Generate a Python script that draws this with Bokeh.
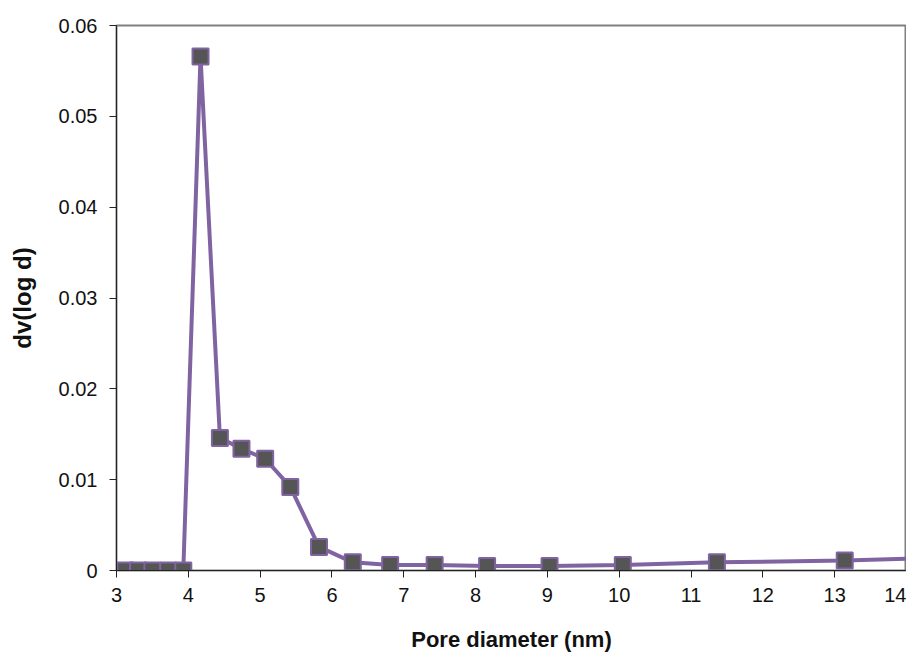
from bokeh.plotting import figure
from bokeh.models import Range1d, FixedTicker
from bokeh.embed import file_html
from bokeh.resources import INLINE

pore_diameter = [3.12, 3.30, 3.50, 3.72, 3.93, 4.17, 4.44, 4.74, 5.07, 5.42, 5.82,
                 6.29, 6.81, 7.43, 8.16, 9.03, 10.05, 11.36, 13.14, 15.5]
dv_logd = [0.0, 0.0, 0.0, 0.0, 0.0, 0.0566, 0.0146, 0.0134, 0.0123, 0.0092, 0.0026,
           0.0009, 0.0006, 0.0006, 0.0005, 0.0005, 0.0006, 0.0009, 0.0011, 0.0016]
x_ticks = [3, 4, 5, 6, 7, 8, 9, 10, 11, 12, 13, 14]
y_ticks = [0, 0.01, 0.02, 0.03, 0.04, 0.05, 0.06]
y_labels = {0: "0", 0.01: "0.01", 0.02: "0.02", 0.03: "0.03", 0.04: "0.04", 0.05: "0.05", 0.06: "0.06"}

p = figure(width=906, height=658, output_backend="svg", toolbar_location=None,
           x_range=Range1d(3, 14), y_range=Range1d(0, 0.06),
           min_border_left=116, min_border_right=0, min_border_top=25, min_border_bottom=88)
p.xgrid.visible = False
p.ygrid.visible = False
p.outline_line_color = "#808080"
p.outline_line_width = 2

p.line(pore_diameter, dv_logd, line_color="#8064A2", line_width=4)
p.scatter(pore_diameter, dv_logd, marker="square", size=16, fill_color="#555555",
          line_color="#8064A2", line_width=2)

font = "Liberation Sans"
for ax in (p.xaxis[0], p.yaxis[0]):
    ax.axis_line_color = "#222222"
    ax.major_tick_line_color = "#222222"
    ax.minor_tick_line_color = None
    ax.major_tick_in = 0
    ax.major_tick_out = 7
    ax.major_label_text_font = font
    ax.major_label_text_font_size = "20px"
    ax.major_label_text_color = "#111111"
    ax.axis_label_text_font = font
    ax.axis_label_text_font_style = "bold"
    ax.axis_label_text_color = "#111111"

p.xaxis.axis_label_text_font_size = "22px"
p.yaxis.axis_label_text_font_size = "24px"
p.xaxis.ticker = FixedTicker(ticks=x_ticks)
p.yaxis.ticker = FixedTicker(ticks=y_ticks)
p.yaxis.major_label_overrides = y_labels
p.xaxis.axis_label = "Pore diameter (nm)"
p.yaxis.axis_label = "dv(log d)"
p.xaxis.major_label_standoff = 10
p.yaxis.major_label_standoff = 12
p.xaxis.axis_label_standoff = 22
p.yaxis.axis_label_standoff = 20

open("out.html", "w").write(file_html(p, INLINE))
